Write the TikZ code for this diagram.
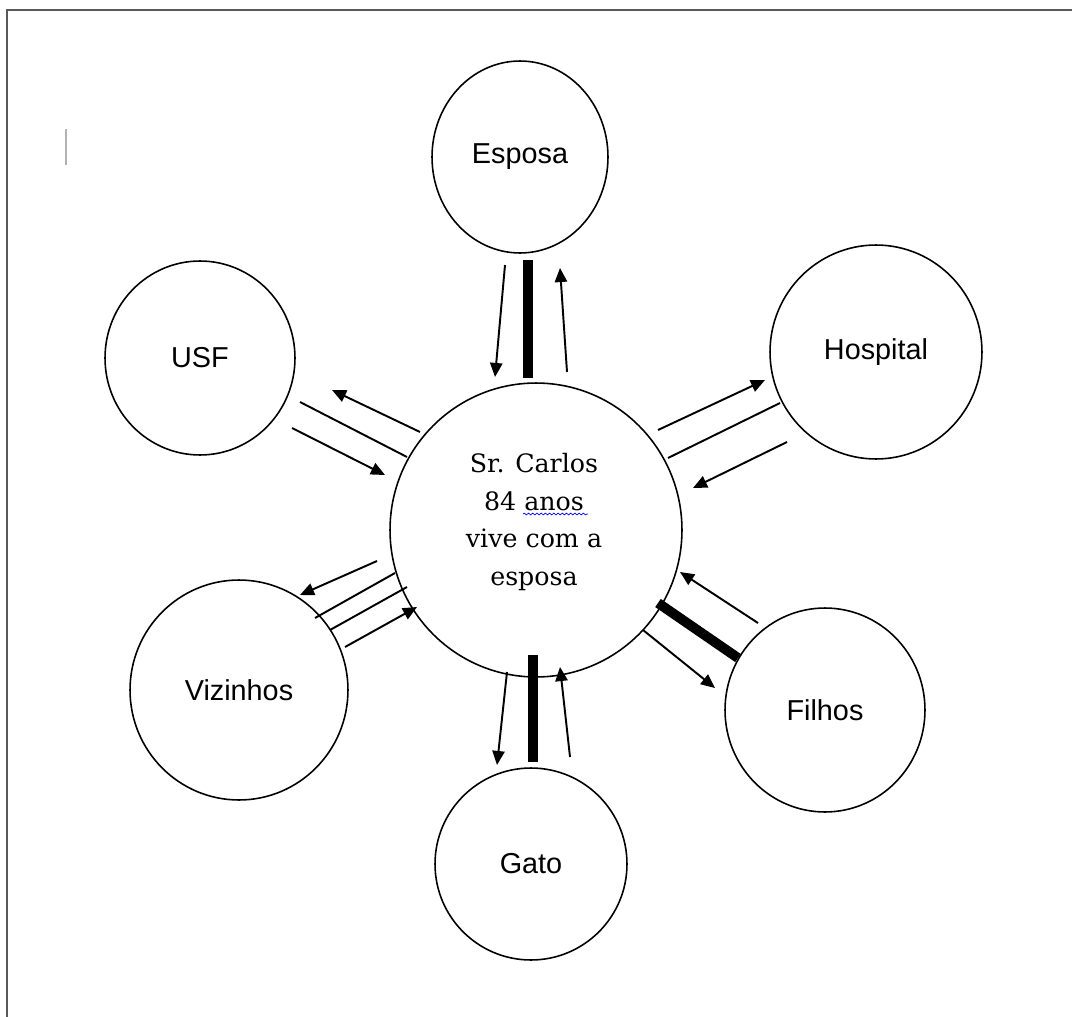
\documentclass[tikz,border=0pt]{standalone}
\usepackage{fontspec}
\setmainfont{Liberation Sans}
\newfontfamily\carlosfont{DejaVu Serif}
\usetikzlibrary{arrows.meta,shapes.geometric,decorations.pathmorphing}
\begin{document}
\begin{tikzpicture}[x=0.02cm,y=-0.02cm,
  bubble/.style={draw,ellipse,line width=0.9pt,inner sep=0pt,fill=white},
  lbl/.style={font=\fontsize{16.4}{20}\selectfont},
  thinarrow/.style={line width=1.1pt,-{Triangle[length=8pt,width=7pt]}},
  plainline/.style={line width=1.1pt},
  thickbar/.style={line width=5.6pt}]
\useasboundingbox (0,0) rectangle (1072,1017);
% frame and caret
\draw[line width=1.3pt,black!65] (7,1017) -- (7,10) -- (1072,10);
\draw[line width=1pt,black!30] (66,129) -- (66,165);
% circles
\node[bubble,minimum width=3.52cm,minimum height=3.84cm,lbl] (esposa) at (520,157) {Esposa};
\node[bubble,minimum width=3.80cm,minimum height=3.88cm,lbl] (usf) at (200,358) {USF};
\node[bubble,minimum width=4.24cm,minimum height=4.28cm,lbl] (hospital) at (876,352) {Hospital};
\node[bubble,minimum width=5.84cm,minimum height=5.88cm] (carlos) at (536,530) {};
\node[bubble,minimum width=4.36cm,minimum height=4.40cm,lbl] (vizinhos) at (239,690) {Vizinhos};
\node[bubble,minimum width=4.00cm,minimum height=4.08cm,lbl] (filhos) at (825,710) {Filhos};
\node[bubble,minimum width=3.84cm,minimum height=3.84cm,lbl] (gato) at (531,864) {Gato};
\node[align=center,font=\carlosfont\fontsize{14.4}{21.6}\selectfont] (carlostext) at (534,522)
  {Sr. Carlos\\84 anos\\vive com a\\esposa};
% spell-check squiggle
\coordinate (sq1) at (523,514);
\coordinate (sq2) at (588,514);
\draw[blue,line width=0.4pt,decorate,decoration={snake,amplitude=0.5pt,segment length=2.4pt}] (sq1) -- (sq2);
% Esposa
\coordinate (e1a) at (505,265); \coordinate (e1b) at (495,377);
\coordinate (e2a) at (528,260); \coordinate (e2b) at (528,378);
\coordinate (e3a) at (567,372); \coordinate (e3b) at (560,268);
\draw[thinarrow] (e1a) -- (e1b);
\draw[thickbar] (e2a) -- (e2b);
\draw[thinarrow] (e3a) -- (e3b);
% USF
\coordinate (u1a) at (420,432); \coordinate (u1b) at (332,390);
\coordinate (u2a) at (300,402); \coordinate (u2b) at (407,457);
\coordinate (u3a) at (292,428); \coordinate (u3b) at (385,475);
\draw[thinarrow] (u1a) -- (u1b);
\draw[plainline] (u2a) -- (u2b);
\draw[thinarrow] (u3a) -- (u3b);
% Hospital
\coordinate (h1a) at (658,430); \coordinate (h1b) at (765,380);
\coordinate (h2a) at (668,458); \coordinate (h2b) at (780,403);
\coordinate (h3a) at (787,442); \coordinate (h3b) at (693,488);
\draw[thinarrow] (h1a) -- (h1b);
\draw[plainline] (h2a) -- (h2b);
\draw[thinarrow] (h3a) -- (h3b);
% Filhos
\coordinate (f1a) at (758,623); \coordinate (f1b) at (680,572);
\coordinate (f2a) at (658,603); \coordinate (f2b) at (738,658);
\coordinate (f3a) at (643,630); \coordinate (f3b) at (715,688);
\draw[thinarrow] (f1a) -- (f1b);
\draw[thickbar] (f2a) -- (f2b);
\draw[thinarrow] (f3a) -- (f3b);
% Gato
\coordinate (g1a) at (507,672); \coordinate (g1b) at (497,765);
\coordinate (g2a) at (533,655); \coordinate (g2b) at (533,762);
\coordinate (g3a) at (570,757); \coordinate (g3b) at (560,667);
\draw[thinarrow] (g1a) -- (g1b);
\draw[thickbar] (g2a) -- (g2b);
\draw[thinarrow] (g3a) -- (g3b);
% Vizinhos
\coordinate (v1a) at (377,561); \coordinate (v1b) at (300,595);
\coordinate (v2a) at (395,573); \coordinate (v2b) at (315,618);
\coordinate (v3a) at (407,587); \coordinate (v3b) at (330,630);
\coordinate (v4a) at (345,647); \coordinate (v4b) at (417,607);
\draw[thinarrow] (v1a) -- (v1b);
\draw[plainline] (v2a) -- (v2b);
\draw[plainline] (v3a) -- (v3b);
\draw[thinarrow] (v4a) -- (v4b);
\end{tikzpicture}
\end{document}
